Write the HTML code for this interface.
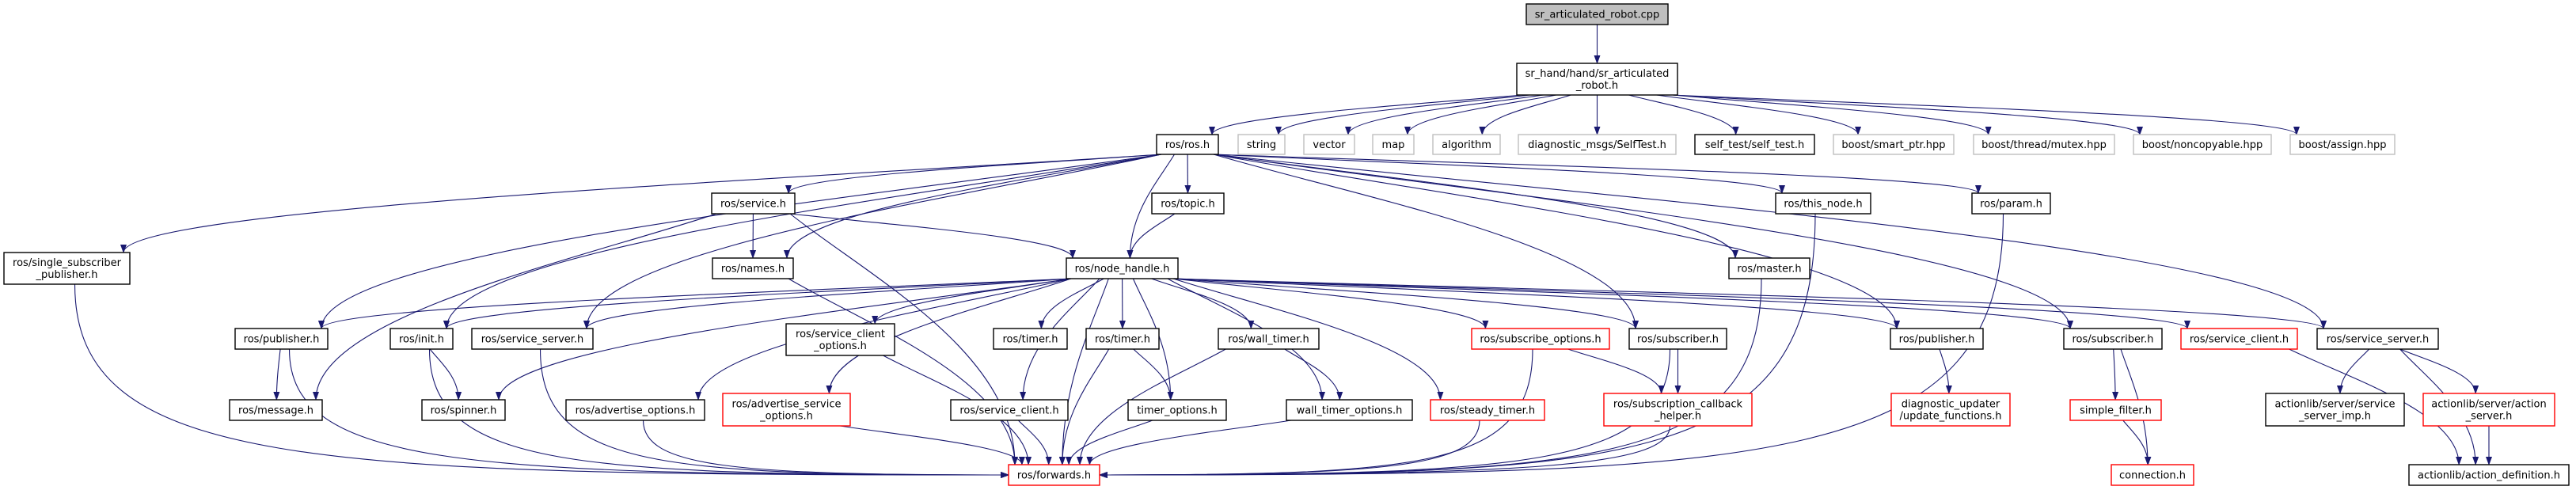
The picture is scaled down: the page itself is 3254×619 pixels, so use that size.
<!DOCTYPE html>
<html><head><meta charset="utf-8">
<style>
html,body{margin:0;padding:0;background:#fff;}
svg{display:block;}
text{font-family:"DejaVu Sans","Liberation Sans",sans-serif;font-size:13px;fill:#000;}
</style></head>
<body>
<svg id="g" width="3254" height="619" viewBox="0 0 3254 619" xmlns="http://www.w3.org/2000/svg">
<defs>
<marker id="ah" markerUnits="userSpaceOnUse" markerWidth="11" markerHeight="8" refX="10" refY="4" orient="auto">
<path d="M0,0 L11,4 L0,8 z" fill="#191970"/>
</marker>
</defs>
<g id="edges" fill="none" stroke="#191970" stroke-width="1.1"></g>
<g id="nodes"></g>
</svg>
<script>
var N={
cpp:[1928,2107,5,31,["sr_articulated_robot.cpp"],"c"],
srh:[1916,2119,80,120,["sr_hand/hand/sr_articulated","_robot.h"],"b"],
rosh:[1461,1539,170,195,["ros/ros.h"],"b"],
string:[1564,1623,170,195,["string"],"g"],
vector:[1647,1711,170,195,["vector"],"g"],
map:[1734,1786,170,195,["map"],"g"],
algorithm:[1810,1895,170,195,["algorithm"],"g"],
diag:[1918,2117,170,195,["diagnostic_msgs/SelfTest.h"],"g"],
selftest:[2141,2292,170,195,["self_test/self_test.h"],"b"],
smart:[2316,2468,170,195,["boost/smart_ptr.hpp"],"g"],
mutex:[2493,2671,170,195,["boost/thread/mutex.hpp"],"g"],
noncop:[2695,2869,170,195,["boost/noncopyable.hpp"],"g"],
assign:[2893,3025,170,195,["boost/assign.hpp"],"g"],
service:[899,1004,244,270,["ros/service.h"],"b"],
topic:[1455,1546,244,270,["ros/topic.h"],"b"],
thisnode:[2243,2363,244,270,["ros/this_node.h"],"b"],
param:[2491,2590,244,270,["ros/param.h"],"b"],
names:[900,1002,326,352,["ros/names.h"],"b"],
nh:[1347,1488,326,352,["ros/node_handle.h"],"b"],
master:[2184,2286,326,352,["ros/master.h"],"b"],
single:[5,164,319,359,["ros/single_subscriber","_publisher.h"],"b"],
pubL:[297,414,415,441,["ros/publisher.h"],"b"],
init:[493,572,415,441,["ros/init.h"],"b"],
ssL:[596,749,415,441,["ros/service_server.h"],"b"],
sco:[993,1130,409,449,["ros/service_client","_options.h"],"b"],
timer1:[1255,1348,415,441,["ros/timer.h"],"b"],
timer2:[1372,1464,415,441,["ros/timer.h"],"b"],
wall:[1539,1666,415,441,["ros/wall_timer.h"],"b"],
subopt:[1859,2033,415,441,["ros/subscribe_options.h"],"r"],
subM:[2058,2181,415,441,["ros/subscriber.h"],"b"],
pubR:[2388,2505,415,441,["ros/publisher.h"],"b"],
subR:[2607,2731,415,441,["ros/subscriber.h"],"b"],
scR:[2755,2902,415,441,["ros/service_client.h"],"r"],
ssR:[2927,3080,415,441,["ros/service_server.h"],"b"],
message:[290,407,505,531,["ros/message.h"],"b"],
spinner:[533,638,505,531,["ros/spinner.h"],"b"],
advopt:[715,890,505,531,["ros/advertise_options.h"],"b"],
aso:[913,1074,497,538,["ros/advertise_service","_options.h"],"r"],
scl:[1201,1349,505,531,["ros/service_client.h"],"b"],
topt:[1425,1549,505,531,["timer_options.h"],"b"],
wto:[1625,1784,505,531,["wall_timer_options.h"],"b"],
steady:[1807,1951,505,531,["ros/steady_timer.h"],"r"],
sch:[2026,2213,497,538,["ros/subscription_callback","_helper.h"],"r"],
upd:[2389,2539,497,538,["diagnostic_updater","/update_functions.h"],"r"],
sf:[2615,2730,505,531,["simple_filter.h"],"r"],
ssimp:[2862,3037,497,538,["actionlib/server/service","_server_imp.h"],"b"],
as:[3061,3227,497,538,["actionlib/server/action","_server.h"],"r"],
fwd:[1274,1389,587,613,["ros/forwards.h"],"r"],
conn:[2667,2771,587,613,["connection.h"],"r"],
ad:[3043,3245,587,613,["actionlib/action_definition.h"],"b"]
};
var E=[
["cpp","srh"],
["srh","rosh"],["srh","string"],["srh","vector"],["srh","map"],["srh","algorithm"],["srh","diag"],["srh","selftest"],["srh","smart"],["srh","mutex"],["srh","noncop"],["srh","assign"],
["rosh","single"],["rosh","service"],["rosh","names"],["rosh","pubL"],["rosh","init"],["rosh","ssL"],["rosh","topic"],["rosh","nh"],["rosh","thisnode"],["rosh","param"],["rosh","master"],["rosh","pubR"],["rosh","subM"],["rosh","subR"],["rosh","ssR"],
["service","names"],["service","nh"],["service","message"],["service","fwd"],
["topic","nh"],["names","fwd"],
["nh","pubL"],["nh","init"],["nh","ssL"],["nh","spinner"],["nh","advopt"],["nh","aso"],["nh","sco"],["nh","timer1"],["nh","timer2"],["nh","topt"],["nh","wall"],["nh","wto"],["nh","scl"],["nh","steady"],["nh","subopt"],["nh","subM"],["nh","pubR"],["nh","subR"],["nh","scR"],["nh","ssR"],["nh","fwd"],
["pubL","message"],["pubL","fwd"],["init","spinner"],["init","fwd"],["ssL","fwd"],["advopt","fwd"],["aso","fwd"],["sco","fwd"],["scl","fwd"],
["timer2","topt"],["timer2","fwd"],["topt","fwd"],["wall","wto"],["wall","fwd"],["wto","fwd"],["steady","fwd"],
["subopt","sch"],["subopt","fwd"],["subM","sch"],["subM","fwd"],["sch","fwd"],
["master","fwd"],["thisnode","fwd"],["param","fwd"],["single","fwd"],
["pubR","upd"],["subR","sf"],["subR","conn"],["sf","conn"],["scR","ad"],["ssR","ssimp"],["ssR","as"],["ssR","ad"],["as","ad"]
];
var NS="http://www.w3.org/2000/svg";
var eg=document.getElementById("edges"),ng=document.getElementById("nodes");
function cl(v,a,b){return Math.max(a,Math.min(b,v));}
E.forEach(function(e){
 var s=N[e[0]],t=N[e[1]];
 var scx=(s[0]+s[1])/2,tcx=(t[0]+t[1])/2;
 var x1,y1,x2,y2,d;
 var dx=tcx-scx,dy=t[2]-s[3];
 y1=s[3];
 x1=cl(scx+dx*0.2,s[0]+6,s[1]-6);
 if(e[1]=="fwd" && Math.abs(dx)>400){
   var side=dx>0?t[0]:t[1];
   x2=side; y2=(t[2]+t[3])/2;
   x1=cl(scx+(dx>0?1:-1)*10,s[0]+5,s[1]-5);
   d="M"+x1+","+y1+" C"+x1+","+(y2-10)+" "+(x1+(x2-x1)*0.25)+","+y2+" "+x2+","+y2;
 } else {
   var ddx=tcx-x1;
   x2=cl(tcx-ddx*0.15,t[0]+8,t[1]-8); y2=t[2];
   var h=y2-y1;
   d="M"+x1+","+y1+" C"+(x1+(x2-x1)*0.35)+","+(y1+h*0.25)+" "+x2+","+(y2-h*0.45)+" "+x2+","+y2;
 }
 var p=document.createElementNS(NS,"path");
 p.setAttribute("d",d);p.setAttribute("marker-end","url(#ah)");
 eg.appendChild(p);
});
for(var k in N){
 var n=N[k];
 var r=document.createElementNS(NS,"rect");
 r.setAttribute("x",n[0]);r.setAttribute("y",n[2]);
 r.setAttribute("width",n[1]-n[0]);r.setAttribute("height",n[3]-n[2]);
 var st={c:"#000",b:"#000",g:"#bfbfbf",r:"#ff0000"}[n[5]];
 r.setAttribute("fill",n[5]=="c"?"#bfbfbf":"#fff");
 r.setAttribute("stroke",st);r.setAttribute("stroke-width","1.4");
 ng.appendChild(r);
 var cx=(n[0]+n[1])/2,cy=(n[2]+n[3])/2;
 var L=n[4];
 L.forEach(function(s,i){
   var tx=document.createElementNS(NS,"text");
   tx.setAttribute("x",cx);
   tx.setAttribute("y",cy+4.5+(i-(L.length-1)/2)*15);
   tx.setAttribute("text-anchor","middle");
   tx.textContent=s;
   ng.appendChild(tx);
 });
}
</script>
</body></html>
